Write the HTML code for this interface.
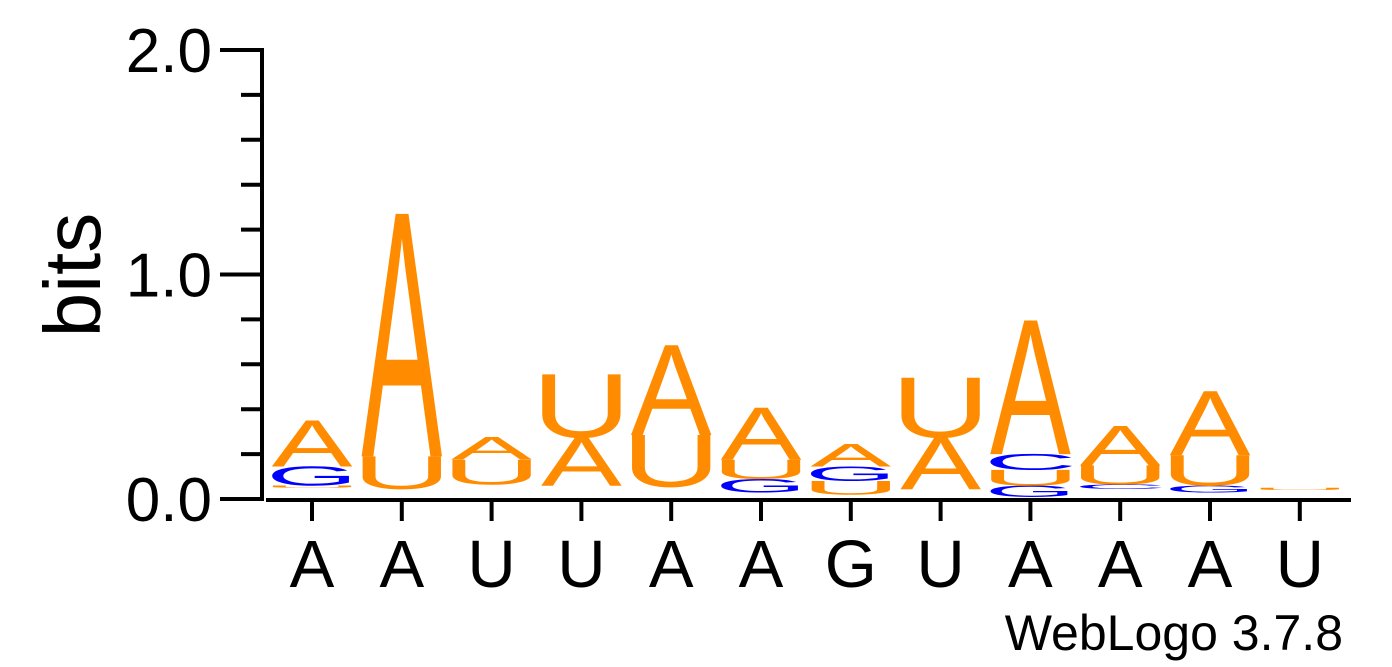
<!DOCTYPE html>
<html><head><meta charset="utf-8"><style>
html,body{margin:0;padding:0;background:#fff;}
svg{display:block;font-family:"Liberation Sans",Arial,sans-serif;}
</style></head><body>
<svg id="logo" width="1392" height="667" viewBox="0 0 1392 667" xmlns="http://www.w3.org/2000/svg">
<g id="yaxis"></g>
<g id="xaxis"></g>
<g id="stacks"></g>
<text x="0" y="0" font-size="80" transform="translate(100,275) rotate(-90)" text-anchor="middle">bits</text>
<text x="1343" y="650" font-size="50" text-anchor="end">WebLogo 3.7.8</text>
</svg>
<script>
const positionLabels = ["A","A","U","U","A","A","G","U","A","A","A","U"];
const yTicks = [0.0, 1.0, 2.0];
// bits occupied by near-invisible letters under each stack
const minorBits = [0.05,0.045,0.065,0.06,0.055,0.03,0.02,0.045,0.01,0.045,0.03,0.04];
const stackLetters = [
  ["U","G","A"],
  ["U","A"],
  ["U","A"],
  ["A","U"],
  ["U","A"],
  ["G","U","A"],
  ["U","G","A"],
  ["A","U"],
  ["G","U","C","A"],
  ["C","U","A"],
  ["G","U","A"],
  ["U"]
];
const stackBits = [
  [0.01,0.085,0.205],
  [0.145,1.08],
  [0.11,0.1],
  [0.215,0.28],
  [0.23,0.4],
  [0.06,0.085,0.23],
  [0.06,0.065,0.1],
  [0.23,0.265],
  [0.05,0.07,0.07,0.595],
  [0.02,0.085,0.175],
  [0.03,0.135,0.285],
  [0.01]
];

const NS = "http://www.w3.org/2000/svg";
const Y0 = 499, PX_PER_BIT = 224.5;
const X0 = 312, COL_STEP = 89.8, LETTER_W = 80;
function yScale(b){ return Y0 - b*PX_PER_BIT; }
function xScale(i){ return X0 + i*COL_STEP; }
const colorOf = {A:"#ff8c00",U:"#ff8c00",G:"#0000ff",C:"#0000ff"};
const inkW = {A:0.66,U:0.58,G:0.68,C:0.62};
const CAP = 0.688;

function mk(tag, attrs, parent){
  const el = document.createElementNS(NS, tag);
  for (const k in attrs) el.setAttribute(k, attrs[k]);
  parent.appendChild(el);
  return el;
}

const ya = document.getElementById("yaxis");
let el = mk("line",{x1:262,y1:yScale(2)-2,x2:262,y2:Y0+2,stroke:"#000","stroke-width":4},ya);


for (let t=0; t<=10; t++){
  const v = t*0.2;
  const major = (t%5===0);
  el = mk("line",{x1: major?220:241, y1:yScale(v), x2:262, y2:yScale(v), stroke:"#000","stroke-width":4},ya);
  
  
}
yTicks.forEach(v=>{
  el = mk("text",{x:212,y:yScale(v)+22,"font-size":62,"text-anchor":"end"},ya);
  el.textContent = v.toFixed(1);
  
  
});

const xa = document.getElementById("xaxis");
el = mk("line",{x1:266,y1:Y0+1,x2:1351,y2:Y0+1,stroke:"#000","stroke-width":4},xa);


positionLabels.forEach((lab,i)=>{
  el = mk("line",{x1:xScale(i),y1:Y0,x2:xScale(i),y2:521,stroke:"#000","stroke-width":4},xa);
  
  
  el = mk("text",{x:xScale(i),y:587,"font-size":67,"text-anchor":"middle"},xa);
  el.textContent = lab;
  
  
});

const st = document.getElementById("stacks");
stackLetters.forEach((letters,i)=>{
  let cum = minorBits[i];
  letters.forEach((L,j)=>{
    const h = stackBits[i][j];
    const yb = yScale(cum), yt = yScale(cum+h);
    cum += h;
    const hp = yb - yt;
    if (hp <= 0) return;
    const sx = LETTER_W/(inkW[L]*100);
    const sy = hp/(CAP*100);
    const t = mk("text",{x:0,y:0,"font-size":100,"text-anchor":"middle",fill:colorOf[L],
      transform:`translate(${xScale(i)},${yb}) scale(${sx},${sy})`},st);
    t.textContent = L;
    
    
  });
});
</script>
</body></html>
